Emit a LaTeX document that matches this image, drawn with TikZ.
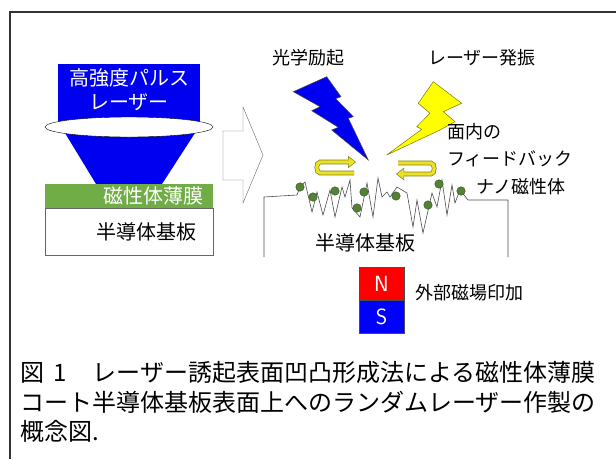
\documentclass[tikz,border=0pt]{standalone}
\usepackage{fontspec}
\setmainfont{Noto Sans CJK JP}
\usetikzlibrary{positioning,shapes.geometric,arrows.meta}

\definecolor{laserblue}{RGB}{0,0,240}
\definecolor{filmgreen}{RGB}{112,173,71}
\definecolor{dotgreen}{RGB}{84,130,53}
\definecolor{dotedge}{RGB}{50,80,30}
\definecolor{boltyellow}{RGB}{255,255,0}
\definecolor{boltedge}{RGB}{120,120,0}
\definecolor{ringyellow}{RGB}{235,225,40}
\definecolor{ringedge}{RGB}{130,125,10}
\definecolor{magred}{RGB}{255,0,0}
\definecolor{magblue}{RGB}{0,0,255}

\begin{document}
\begin{tikzpicture}[x=1pt,y=-1pt,
  tag/.style={font=\fontsize{18}{18}\selectfont, inner sep=0pt},
  boxtext/.style={font=\fontsize{20}{24}\selectfont, inner sep=0pt},
  captext/.style={font=\fontsize{24}{24}\selectfont, inner sep=0pt, anchor=base west},
  slab/.style={rectangle, minimum width=168pt, inner ysep=0pt, align=right},
  dot/.style={circle, fill=dotgreen, draw=dotedge, minimum size=8.5pt, inner sep=0pt},
  pole/.style={rectangle, draw=black!70, minimum width=45pt, minimum height=33pt, inner sep=0pt, text=white, font=\sffamily\fontsize{22}{22}\selectfont}]
\useasboundingbox (0,0) rectangle (616,459);
\draw[black!80, line width=1.2pt] (10,459) -- (10,12) -- (616,12);

% pulsed laser focused on the coated substrate
\fill[laserblue] (65,133) -- (195,133) -- (162,184) -- (96,184) -- cycle;
\node[rectangle, fill=laserblue, minimum width=142pt, minimum height=58pt, inner sep=0pt] (laser) at (129,93) {};
\node[boxtext, text=white, align=center] (lasertext) at (129,90) {高強度パルス\\レーザー};
\node[ellipse, draw, fill=white, minimum width=168pt, minimum height=20pt, inner sep=0pt] (lens) at (129,127) {};
\node[slab, fill=filmgreen, minimum height=24pt, text width=148pt, inner xsep=10pt, text=white, boxtext] (film) at (129,196) {磁性体薄膜};
\node[slab, draw=black!60, minimum height=47pt, text width=134pt, inner xsep=17pt, boxtext] (sub) at (129,231.5) {半導体基板};

% hollow arrow
\draw[black!60, fill=white] (223,131) -- (243,131) -- (243,107) -- (263,155) -- (243,203) -- (243,180) -- (223,180) -- cycle;

% roughened surface
\draw[black!70, line width=0.6pt] (264,257) -- (264,197) -- (297,195) -- (300,187) -- (305,182) -- (312,212) -- (317,192) -- (323,215) -- (330,190) -- (335,217) -- (342,187) -- (345,197) -- (350,180) -- (352,208) -- (360,217) -- (367,183) -- (373,217) -- (378,178) -- (382,197) -- (387,192) -- (390,197) -- (397,187) -- (407,193) -- (413,227) -- (417,200) -- (423,233) -- (432,193) -- (437,207) -- (442,180) -- (447,215) -- (452,185) -- (455,203) -- (460,190) -- (468,200) -- (508,200) -- (508,257);
\foreach \x/\y [count=\i] in {300/187,313/197,335/191,357/208,364/192,396/196,428/205,439/184,461/191}
  \node[dot] (np\i) at (\x,\y) {};

% excitation and lasing
\draw[black!70, fill=laserblue, line width=0.5pt] (293.3,91.7) -- (326.7,76.7) -- (341,96.7) -- (335.7,98.7) -- (353.3,116.7) -- (348.3,118.3) -- (368.3,160) -- (331.7,130) -- (338.3,127.3) -- (311.7,110.7) -- (320,106.7) -- cycle;
\draw[boltedge, fill=boltyellow, line width=0.5pt] (433.3,81.7) -- (461.7,103.3) -- (443.3,111.7) -- (455,121.7) -- (440,130) -- (386.7,155) -- (421.7,129.3) -- (416.7,126.7) -- (430,113.3) -- (418.3,103.3) -- cycle;

% in-plane feedback
\draw[ringedge, line width=4.6pt, -{Triangle[length=8pt,width=12pt]}] (354,173) -- (320,173) to[out=180,in=180] (320,162) -- (356,162);
\draw[ringyellow, line width=3.2pt, -{Triangle[length=6.5pt,width=9.5pt]}] (354,173) -- (320,173) to[out=180,in=180] (320,162) -- (355,162);
\draw[ringedge, line width=4.6pt, -{Triangle[length=8pt,width=12pt]}] (398,163) -- (431,163) to[out=0,in=0] (431,174) -- (396,174);
\draw[ringyellow, line width=3.2pt, -{Triangle[length=6.5pt,width=9.5pt]}] (398,163) -- (431,163) to[out=0,in=0] (431,174) -- (397,174);

\node[tag] (excite) at (308,58) {光学励起};
\node[tag] (lasing) at (482,58) {レーザー発振};
\node[tag, anchor=west] (fb1) at (447,132) {面内の};
\node[tag, anchor=west] (fb2) at (447,159) {フィードバック};
\node[tag, anchor=west] (nano) at (476,187) {ナノ磁性体};
\node[boxtext] (subtext) at (365,243) {半導体基板};

% external field
\node[pole, fill=magred] (north) at (381.5,283.5) {N};
\node[pole, fill=magblue, below=0pt of north] (south) {S};
\node[tag, anchor=west] (field) at (415,293) {外部磁場印加};

\node[captext] (cap1) at (20,381) {図\hspace{9pt}1\hspace{2pt}　レーザー誘起表面凹凸形成法による磁性体薄膜};
\node[captext] (cap2) at (20,411) {コート半導体基板表面上へのランダムレーザー作製の};
\node[captext] (cap3) at (20,440) {概念図.};
\end{tikzpicture}
\end{document}
